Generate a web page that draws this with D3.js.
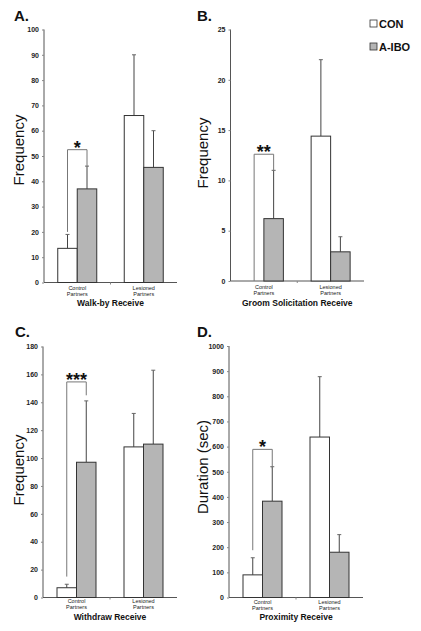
<!DOCTYPE html>
<html><head><meta charset="utf-8">
<script src="https://cdn.jsdelivr.net/npm/d3@7"></script>
<style>body{margin:0;background:#fff}svg{display:block;font-family:"Liberation Sans",Arial,sans-serif}</style>
</head><body>
<script>
const categories = ["Control Partners", "Lesioned Partners"];
const groups = ["CON", "A-IBO"];
const panelLetters = ["A.", "B.", "C.", "D."];
const xTitles = ["Walk-by Receive", "Groom Solicitation Receive", "Withdraw Receive", "Proximity Receive"];
const yTitles = ["Frequency", "Frequency", "Frequency", "Duration (sec)"];
const yMax = [100, 25, 180, 1000];
const yStep = [10, 5, 20, 100];
// means (CON, A-IBO) per category
const conMeans = [[13.5, 66], [0, 14.4], [7, 108], [90, 638]];
const iboMeans = [[37, 45.5], [6.2, 2.9], [97, 110], [383, 180]];
// upper error bar end
const conErrTop = [[19, 90], [0, 22], [9.5, 132], [158, 878]];
const iboErrTop = [[46, 60], [11, 4.4], [141, 163], [520, 250]];
// significance bracket: [top, left bottom, right bottom]
const brackets = [[52.5, 20, 46], [12.6, 0, 11], [154.6, 15, 145], [589, 188, 513]];
const stars = ["*", "**", "***", "*"];

const W = 421, H = 631;
const svg = d3.select("body").append("svg").attr("width", W).attr("height", H);

const layout = [
  {x0: 44, x1: 177, yTop: 29.5, yBot: 282.5, lx: 14, ly: 21, ytx: 24, yty: 150, cat1: 289.5, cat2: 295.5, xt: 306},
  {x0: 230.5, x1: 364, yTop: 29.5, yBot: 281, lx: 197, ly: 20.5, ytx: 208, yty: 153, cat1: 288.5, cat2: 294.5, xt: 306},
  {x0: 43, x1: 177, yTop: 346.5, yBot: 597.5, lx: 15, ly: 337, ytx: 24, yty: 470, cat1: 603, cat2: 609, xt: 620},
  {x0: 229, x1: 363, yTop: 346, yBot: 597.5, lx: 197, ly: 337, ytx: 208, yty: 467, cat1: 604, cat2: 610, xt: 620}
];

layout.forEach((L, i) => {
  const g = svg.append("g");
  const y = d3.scaleLinear().domain([0, yMax[i]]).range([L.yBot, L.yTop]);
  const x = d3.scaleBand().domain(categories).range([L.x0, L.x1]);
  const xs = d3.scaleBand().domain(groups).range([0, 39]);

  // y axis
  const yAxis = d3.axisLeft(y).tickValues(d3.range(0, yMax[i] + 0.001, yStep[i]))
    .tickFormat(d3.format("d")).tickSize(2).tickPadding(3);
  const ya = g.append("g").attr("transform", `translate(${L.x0},0)`).call(yAxis);
  ya.select(".domain").attr("d", `M0,${L.yTop}V${L.yBot}`).attr("stroke", "#555");
  ya.selectAll(".tick line").attr("stroke", "#888");
  ya.selectAll(".tick text").attr("font-size", 7).attr("font-weight", "bold").attr("fill", "#222");

  // x axis line
  g.append("line").attr("x1", L.x0).attr("x2", L.x1).attr("y1", L.yBot).attr("y2", L.yBot).attr("stroke", "#555");
  g.append("line").attr("x1", x(categories[1])).attr("x2", x(categories[1])).attr("y1", L.yBot).attr("y2", L.yBot + 2).attr("stroke", "#888");

  const data = [];
  categories.forEach((c, ci) => {
    data.push({c, gname: "CON", v: conMeans[i][ci], e: conErrTop[i][ci]});
    data.push({c, gname: "A-IBO", v: iboMeans[i][ci], e: iboErrTop[i][ci]});
  });
  const bx = d => x(d.c) + x.bandwidth() / 2 - 19.5 + xs(d.gname);

  // error bars
  data.filter(d => d.e > d.v).forEach(d => {
    const cx = bx(d) + xs.bandwidth() / 2;
    g.append("line").attr("x1", cx).attr("x2", cx).attr("y1", y(d.v)).attr("y2", y(d.e)).attr("stroke", "#444").attr("stroke-width", 1);
    g.append("line").attr("x1", cx - 2).attr("x2", cx + 2).attr("y1", y(d.e)).attr("y2", y(d.e)).attr("stroke", "#666").attr("stroke-width", 1);
  });

  g.selectAll("rect.bar").data(data.filter(d => d.v > 0)).join("rect")
    .attr("x", bx).attr("width", xs.bandwidth())
    .attr("y", d => y(d.v)).attr("height", d => y(0) - y(d.v))
    .attr("fill", d => d.gname === "CON" ? "#fff" : "#b5b5b5")
    .attr("stroke", "#333").attr("stroke-width", 1);

  // bracket
  const b = brackets[i];
  const lxp = x(categories[0]) + x.bandwidth() / 2 - 19.5 + xs("CON") + xs.bandwidth() / 2;
  const rxp = x(categories[0]) + x.bandwidth() / 2 - 19.5 + xs("A-IBO") + xs.bandwidth() / 2;
  g.append("path").attr("d", `M${lxp},${y(b[1])}V${y(b[0])}H${rxp}V${y(b[2])}`)
    .attr("fill", "none").attr("stroke", "#777").attr("stroke-width", 1);
  g.append("text").attr("x", (lxp + rxp) / 2).attr("y", y(b[0]) + 4).attr("text-anchor", "middle")
    .attr("font-size", 18).attr("font-weight", "bold").attr("fill", "#111").text(stars[i]);

  // category labels
  categories.forEach(c => {
    const parts = c.split(" ");
    const cx = x(c) + x.bandwidth() / 2;
    g.append("text").attr("x", cx).attr("y", L.cat1).attr("text-anchor", "middle").attr("font-size", 5.5).attr("fill", "#222").text(parts[0]);
    g.append("text").attr("x", cx).attr("y", L.cat2).attr("text-anchor", "middle").attr("font-size", 5.5).attr("fill", "#222").text(parts[1]);
  });

  // x title
  g.append("text").attr("x", (L.x0 + L.x1) / 2).attr("y", L.xt).attr("text-anchor", "middle")
    .attr("font-size", 8.5).attr("font-weight", "bold").attr("fill", "#111").text(xTitles[i]);

  // y title
  g.append("text").attr("transform", `translate(${L.ytx},${L.yty}) rotate(-90)`)
    .attr("text-anchor", "middle").attr("font-size", 15).attr("fill", "#111").text(yTitles[i]);

  // panel letter
  g.append("text").attr("x", L.lx).attr("y", L.ly).attr("font-size", 15).attr("font-weight", "bold").attr("fill", "#111").text(panelLetters[i]);
});

// legend
const legend = svg.append("g");
groups.forEach((gname, k) => {
  const yy = 20 + k * 23;
  legend.append("rect").attr("x", 370).attr("y", yy).attr("width", 7).attr("height", 7)
    .attr("fill", gname === "CON" ? "#fff" : "#b5b5b5").attr("stroke", "#333").attr("stroke-width", 0.8);
  legend.append("text").attr("x", 379).attr("y", yy + 7.5).attr("font-size", 11).attr("font-weight", "bold").attr("fill", "#111").text(gname);
});
</script>
</body></html>
